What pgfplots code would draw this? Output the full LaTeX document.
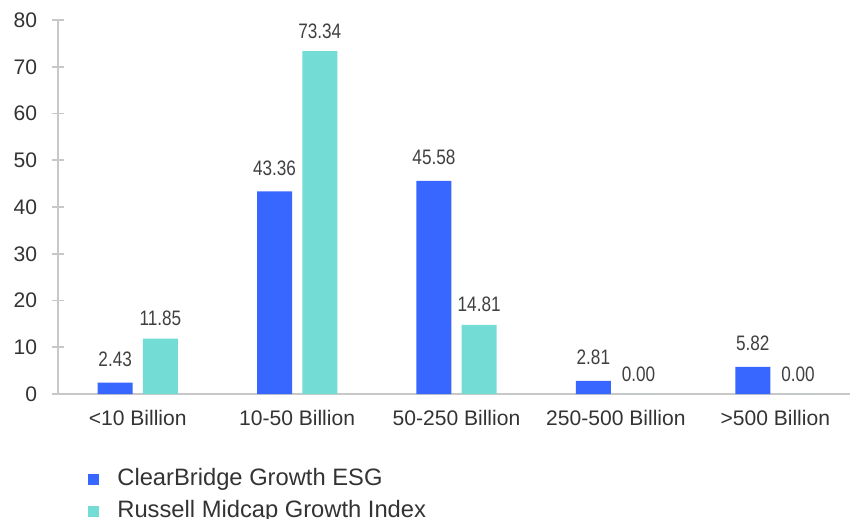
\documentclass[border=0pt]{standalone}
\usepackage{pgfplots}
\pgfplotsset{compat=1.18}
\usepackage{fontspec}
\setmainfont{Liberation Sans}
\newfontfamily\narrowfont[FakeStretch=0.82]{Liberation Sans}
\definecolor{cbblue}{RGB}{56,103,255}
\definecolor{rteal}{RGB}{114,220,213}
\definecolor{axgray}{RGB}{200,200,200}
\definecolor{txtgray}{RGB}{51,51,51}
\definecolor{lblgray}{RGB}{64,64,64}
\begin{document}
\begin{tikzpicture}
\useasboundingbox (-43.5pt,-93pt) rectangle (594pt,295.5pt);
\begin{axis}[
  at={(0,0)}, anchor=south west,
  scale only axis,
  width=597.75pt, height=280.5pt,
  xmin=-0.5, xmax=4.5,
  ymin=0, ymax=80,
  ytick={0,10,...,80},
  xtick={0,1,2,3,4},
  xticklabels={<10 Billion,10-50 Billion,50-250 Billion,250-500 Billion,>500 Billion},
  axis x line=bottom, axis y line=left,
  axis line style={draw=axgray, line width=1.5pt, -},
  x axis line style={-},
  y axis line style={-},
  tick align=center,
  major tick length=8.7pt,
  ytick style={draw=axgray, line width=1.2pt},
  xtick style={draw=none},
  tick label style={font=\fontsize{15.8}{18}\selectfont, text=txtgray},
  /pgf/number format/assume math mode=true,
  yticklabel style={anchor=east, inner sep=0pt, xshift=-11.2pt},
  xticklabel style={anchor=north, inner sep=0pt, text height=11.3pt, yshift=-3.5pt},
  ybar, bar width=26.25pt,
  nodes near coords,
  every node near coord/.append style={font=\narrowfont\fontsize{15.7}{18}\selectfont, text=lblgray, anchor=center,
     /pgf/number format/fixed, /pgf/number format/precision=2, /pgf/number format/zerofill, /pgf/number format/assume math mode=true},
  legend style={at={(0,0)}, anchor=north west, xshift=22.25pt, yshift=-55.5pt, draw=none, fill=none, inner sep=0pt,
     font=\fontsize{17.8}{20}\selectfont, text=txtgray,
     nodes={inner sep=0pt, text height=12.8pt, text depth=3.8pt},
     row sep=7.4pt},
  legend cell align=left,
  legend image code/.code={\fill[#1] (0pt,-4.3pt) rectangle (8.6pt,4.3pt);},
  clip=false,
]
\addplot[fill=cbblue, draw=none, bar shift=-16.9pt,
  every node near coord/.append style={yshift=17.5pt}]
  coordinates {(0,2.43) (1,43.36) (2,45.58) (3,2.81) (4,5.82)};
\addlegendentry{\hspace{13.5pt}ClearBridge Growth ESG}
\addplot[fill=rteal, draw=none, bar shift=17pt,
  every node near coord/.append style={yshift=15pt}]
  coordinates {(0,11.85) (1,73.34) (2,14.81) (3,0) (4,0)};
\addlegendentry{\hspace{13.5pt}Russell Midcap Growth Index}
\end{axis}
\end{tikzpicture}
\end{document}
